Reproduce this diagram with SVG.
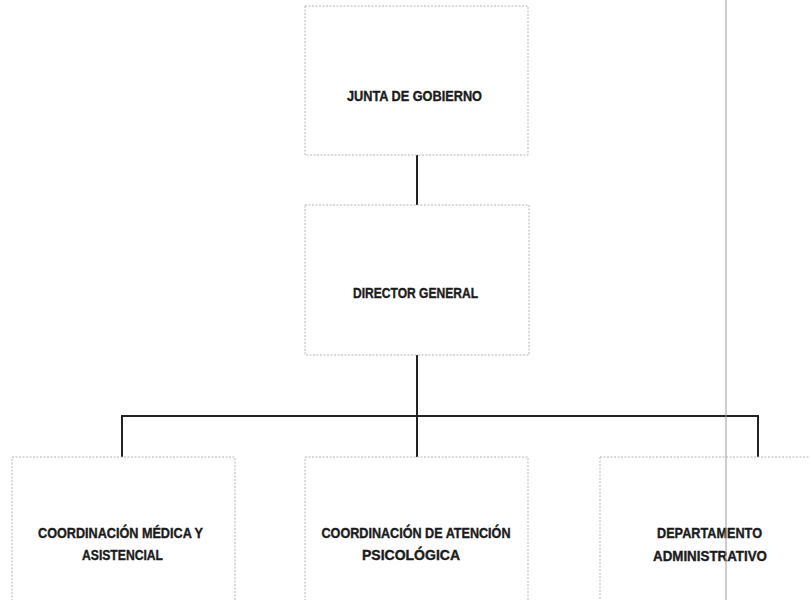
<svg xmlns="http://www.w3.org/2000/svg" width="810" height="600" viewBox="0 0 810 600">
<style>
.box{fill:#fff;stroke:#b5b5b5;stroke-width:1;stroke-dasharray:2 1.5}
.lbl{font-family:"Liberation Sans",Arial,sans-serif;font-weight:bold;font-size:15px;fill:#1c1c1c;stroke:#1c1c1c;stroke-width:0.4;text-anchor:middle}
.conn{stroke:#222;stroke-width:2;fill:none}
</style>
<rect width="810" height="600" fill="#fff"/>
<g id="connectors">
<line class="conn" x1="417" y1="155" x2="417" y2="205"/>
<line class="conn" x1="417" y1="355" x2="417" y2="457"/>
<polyline class="conn" points="122,457 122,416 758,416 758,457"/>
</g>
<g id="junta">
<rect class="box" x="305" y="6" width="223" height="149"/>
<text class="lbl" x="414.5" y="101" textLength="135" lengthAdjust="spacingAndGlyphs">JUNTA DE GOBIERNO</text>
</g>
<g id="director">
<rect class="box" x="305" y="205" width="224" height="150"/>
<text class="lbl" x="415.5" y="298" textLength="125" lengthAdjust="spacingAndGlyphs">DIRECTOR GENERAL</text>
</g>
<g id="medica">
<rect class="box" x="12" y="457" width="223" height="150"/>
<text class="lbl" x="120.5" y="538" textLength="165" lengthAdjust="spacingAndGlyphs">COORDINACIÓN MÉDICA Y</text>
<text class="lbl" x="122.5" y="560" textLength="81" lengthAdjust="spacingAndGlyphs">ASISTENCIAL</text>
</g>
<g id="psicologica">
<rect class="box" x="305" y="457" width="223" height="150"/>
<text class="lbl" x="416" y="538" textLength="189" lengthAdjust="spacingAndGlyphs">COORDINACIÓN DE ATENCIÓN</text>
<text class="lbl" x="411" y="560" textLength="98" lengthAdjust="spacingAndGlyphs">PSICOLÓGICA</text>
</g>
<g id="administrativo">
<rect class="box" x="600" y="457" width="215" height="150"/>
<text class="lbl" x="709.5" y="538" textLength="105" lengthAdjust="spacingAndGlyphs">DEPARTAMENTO</text>
<text class="lbl" x="710" y="561" textLength="114" lengthAdjust="spacingAndGlyphs">ADMINISTRATIVO</text>
</g>
<line x1="726" y1="0" x2="726" y2="600" stroke="#9a9a9a" stroke-width="1"/>
</svg>
